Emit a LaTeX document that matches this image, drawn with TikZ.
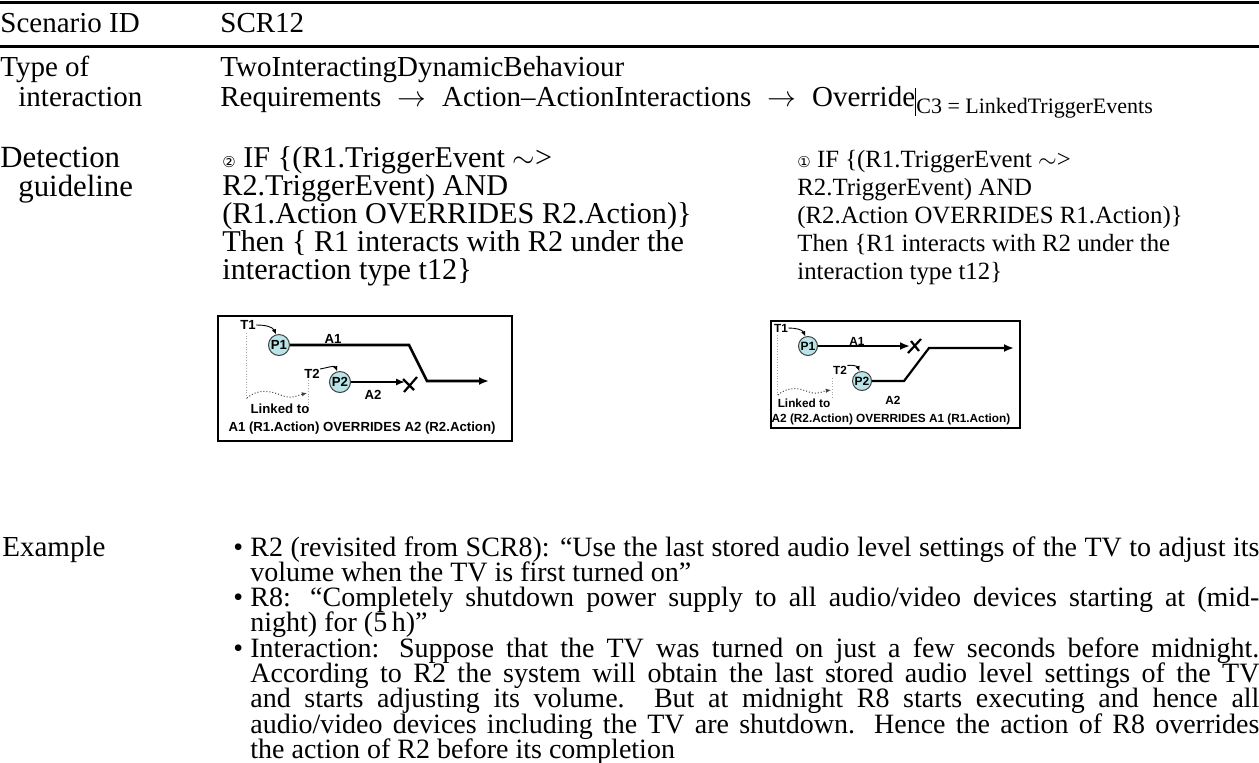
\documentclass[tikz,border=0pt]{standalone}
\usepackage{fontspec}
\setmainfont{Liberation Serif}
\newfontfamily\figfont{Liberation Sans}
\newfontfamily\symfont{DejaVu Sans}
\usetikzlibrary{arrows.meta}
\definecolor{pfill}{RGB}{185,228,232}
\newcommand{\cnum}[1]{{\symfont\fontsize{7.5}{7.5}\selectfont #1}}
\newcommand{\rarr}{\hspace{0.55em}$\rightarrow$\hspace{0.55em}}
\tikzset{
  rulel/.style={line width=1.5pt},
  lbl/.style={anchor=base west, inner sep=0pt, font=\fontsize{14.5}{14}\selectfont},
  dlbl/.style={anchor=base west, inner sep=0pt, font=\fontsize{15.4}{14}\selectfont},
  glbl/.style={anchor=base west, inner sep=0pt, font=\fontsize{15.1}{14}\selectfont},
  grbl/.style={anchor=base west, inner sep=0pt, font=\fontsize{12.4}{14}\selectfont},
  figbox/.style={draw=black, line width=0.8pt},
  flbl/.style={inner sep=0pt, font=\figfont\bfseries\fontsize{6.6}{6.6}\selectfont},
  flblb/.style={inner sep=0pt, font=\figfont\bfseries\fontsize{5.9}{5.9}\selectfont},
  pcirc/.style={circle, draw=black!75, line width=0.5pt, fill=pfill, minimum size=10.5pt, inner sep=0pt, font=\figfont\bfseries\fontsize{6.6}{6.6}\selectfont},
  pcircb/.style={pcirc, minimum size=9.5pt, font=\figfont\bfseries\fontsize{6}{6}\selectfont},
  thickln/.style={line width=1.3pt, -{Latex[length=5pt,width=4pt]}},
  medln/.style={line width=0.9pt, -{Latex[length=4.5pt,width=3.6pt]}},
  xmark/.style={line width=1.1pt},
  trig/.style={line width=0.45pt, -{Latex[length=2.6pt,width=2.2pt]}},
  vline/.style={line width=0.35pt, gray!70, densely dotted},
  wave/.style={line width=0.5pt, black!75, densely dotted, -{Latex[length=2.6pt,width=2.2pt]}},
}
\begin{document}
\begin{tikzpicture}[x=0.5pt,y=-0.5pt]
\useasboundingbox (0,0) rectangle (1259,762);
% rules
\draw[rulel] (0,2.5) -- (1259,2.5);
\draw[rulel] (0,46) -- (1259,46);
% row 1
\node[lbl] (sid) at (0,32) {Scenario ID};
\node[lbl] (scr) at (220,32) {SCR12};
% row 2
\node[lbl] (typ1) at (0,76) {Type of};
\node[lbl] (typ2) at (18,106) {interaction};
\node[lbl] (tw) at (220,76) {TwoInteractingDynamicBehaviour};
\node[lbl] (req) at (220,106) {Requirements\rarr Action–ActionInteractions\rarr Override\rule[-5pt]{0.6pt}{14pt}\raisebox{-3.5pt}{\fontsize{11}{11}\selectfont C3 = LinkedTriggerEvents}};
% row 3
\node[dlbl] (det1) at (0,167) {Detection};
\node[dlbl] (det2) at (18,196) {guideline};
\node[glbl] (gl1) at (222,167) {\cnum{②} IF \{(R1.TriggerEvent $\sim$>};
\node[glbl] (gl2) at (222,195) {R2.TriggerEvent) AND};
\node[glbl] (gl3) at (222,223) {(R1.Action OVERRIDES R2.Action)\}};
\node[glbl] (gl4) at (222,251) {Then \{ R1 interacts with R2 under the};
\node[glbl] (gl5) at (222,279) {interaction type t12\}};
\node[grbl] (gr1) at (797,167) {\cnum{①} IF \{(R1.TriggerEvent $\sim$>};
\node[grbl] (gr2) at (797,195) {R2.TriggerEvent) AND};
\node[grbl] (gr3) at (797,223) {(R2.Action OVERRIDES R1.Action)\}};
\node[grbl] (gr4) at (797,251) {Then \{R1 interacts with R2 under the};
\node[grbl] (gr5) at (797,279) {interaction type t12\}};
% figure 1
\draw[figbox] (218,316) rectangle (512,441);
\node[flbl] (f1t1) at (248,325) {T1};
\node[pcirc] (f1p1) at (279,345) {P1};
\node[flbl] (f1a1) at (333,339) {A1};
\node[flbl] (f1t2) at (312,374) {T2};
\node[pcirc] (f1p2) at (340,382) {P2};
\node[flbl] (f1a2) at (373,395) {A2};
\coordinate (f1b1) at (409,345);
\coordinate (f1b2) at (427,381);
\coordinate (f1end) at (489,381);
\coordinate (f1a2e) at (405,382);
\draw[thickln] (f1p1.east) -- (f1b1) -- (f1b2) -- (f1end);
\draw[medln] (f1p2.east) -- (f1a2e);
\draw[xmark] (404,392) -- (417,377) (403,379) -- (414,390);
\draw[trig] (f1t1.east) to[out=0,in=115] (f1p1.105);
\draw[trig] (f1t2.north east) to[out=10,in=110] (f1p2.105);
\coordinate (f1v1a) at (246,333); \coordinate (f1v1b) at (246,400);
\coordinate (f1v2a) at (308,380); \coordinate (f1v2b) at (308,408);
\draw[vline] (f1v1a) -- (f1v1b);
\draw[vline] (f1v2a) -- (f1v2b);
\coordinate (f1w1) at (247,398); \coordinate (f1w2) at (307,393);
\draw[wave] (f1w1) .. controls (258,388) and (272,391) .. (283,396) .. controls (292,399) and (299,395) .. (f1w2);
\node[flbl] (f1lk) at (280,409) {Linked to};
\node[flbl] (f1cap) at (362,428) {A1 (R1.Action) OVERRIDES A2 (R2.Action)};
% figure 2
\draw[figbox] (771,321) rectangle (1020,428);
\node[flblb] (f2t1) at (781,328) {T1};
\node[pcircb] (f2p1) at (808,346) {P1};
\node[flblb] (f2a1) at (857,341) {A1};
\node[flblb] (f2t2) at (840,370) {T2};
\node[pcircb] (f2p2) at (862,381) {P2};
\node[flblb] (f2a2) at (893,400) {A2};
\coordinate (f2a1e) at (910,346);
\coordinate (f2b1) at (904,381);
\coordinate (f2b2) at (929,348);
\coordinate (f2end) at (1014,348);
\draw[thickln, line width=1.1pt] (f2p1.east) -- (f2a1e);
\draw[thickln, line width=1.1pt] (f2p2.east) -- (f2b1) -- (f2b2) -- (f2end);
\draw[xmark] (908,353) -- (921,339) (911,341) -- (919,351);
\draw[trig] (f2t1.east) to[out=0,in=115] (f2p1.105);
\draw[trig] (f2t2.north east) to[out=10,in=110] (f2p2.105);
\coordinate (f2v1a) at (777,335); \coordinate (f2v1b) at (777,397);
\coordinate (f2v2a) at (832,378); \coordinate (f2v2b) at (832,399);
\draw[vline] (f2v1a) -- (f2v1b);
\draw[vline] (f2v2a) -- (f2v2b);
\coordinate (f2w1) at (778,395); \coordinate (f2w2) at (831,390);
\draw[wave] (f2w1) .. controls (788,386) and (799,388) .. (809,392) .. controls (818,395) and (824,391) .. (f2w2);
\node[flblb] (f2lk) at (804,403) {Linked to};
\node[flblb] (f2cap) at (891,419) {A2 (R2.Action) OVERRIDES A1 (R1.Action)};
% example
\node[lbl] (ex) at (2,556) {Example};
\node[anchor=base west, inner sep=0pt, text width=513pt, align=justify,
      font=\fontsize{14}{12.65}\selectfont] (exb) at (233,556) {%
\lineskiplimit=-20pt\lineskip=0pt
\hangindent=8.5pt\hangafter=1\noindent\makebox[8.5pt][l]{\textbullet}R2 (revisited from SCR8): “Use the last stored audio level settings of the TV to adjust its\linebreak volume when the TV is first turned on”\par
\hangindent=8.5pt\hangafter=1\noindent\makebox[8.5pt][l]{\textbullet}R8: “Completely shutdown power supply to all audio/video devices starting at (mid-\linebreak night) for (5\,h)”\par
\hangindent=8.5pt\hangafter=1\noindent\makebox[8.5pt][l]{\textbullet}Interaction: Suppose that the TV was turned on just a few seconds before midnight.\linebreak According to R2 the system will obtain the last stored audio level settings of the TV\linebreak and starts adjusting its volume. But at midnight R8 starts executing and hence all\linebreak audio/video devices including the TV are shutdown. Hence the action of R8 overrides\linebreak the action of R2 before its completion\par};
\end{tikzpicture}
\end{document}
